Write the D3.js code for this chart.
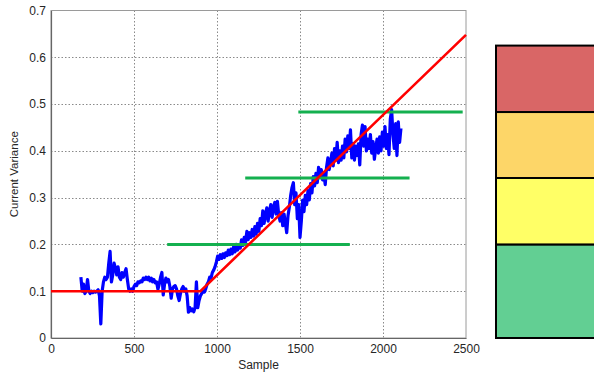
<!DOCTYPE html>
<html>
<head>
<meta charset="utf-8">
<script src="https://cdn.jsdelivr.net/npm/d3@7"></script>
<style>
  html, body { margin: 0; padding: 0; background: #fff; }
  svg { display: block; font-family: Arial, "Liberation Sans", sans-serif; }
</style>
</head>
<body>
<svg id="chart" width="594" height="378"></svg>
<script>
// Measured variance, one reading every sampleStep samples from sampleStart
const sampleStart = 180;
const sampleStep = 8;
const varianceValues = [
  0.13, 0.10, 0.115, 0.095, 0.10, 0.125, 0.10, 0.095, 0.10, 0.097,
  0.10, 0.098, 0.10, 0.103, 0.09, 0.03, 0.10, 0.12, 0.13, 0.125,
  0.13, 0.16, 0.185, 0.12, 0.135, 0.16, 0.15, 0.135, 0.152, 0.13,
  0.125, 0.14, 0.13, 0.14, 0.148, 0.125, 0.105, 0.10, 0.105, 0.10,
  0.11, 0.115, 0.112, 0.12, 0.118, 0.122, 0.12, 0.128, 0.125, 0.13,
  0.125, 0.13, 0.122, 0.128, 0.12, 0.125, 0.118, 0.12, 0.104, 0.115,
  0.13, 0.14, 0.092, 0.115, 0.128, 0.12, 0.125, 0.11, 0.085, 0.105,
  0.11, 0.112, 0.105, 0.09, 0.08, 0.095, 0.105, 0.11, 0.10, 0.105,
  0.09, 0.055, 0.065, 0.058, 0.062, 0.056, 0.065, 0.12, 0.065, 0.08,
  0.09, 0.095, 0.10, 0.098, 0.105, 0.115, 0.12, 0.13, 0.128, 0.14,
  0.145, 0.152, 0.162, 0.175, 0.168, 0.178, 0.17, 0.18, 0.172, 0.182,
  0.176, 0.188, 0.178, 0.19, 0.18, 0.195, 0.184, 0.20, 0.188, 0.198,
  0.192, 0.21, 0.198, 0.215, 0.205, 0.228, 0.21, 0.225, 0.215, 0.232,
  0.218, 0.238, 0.222, 0.245, 0.228, 0.255, 0.24, 0.272, 0.245, 0.265,
  0.278, 0.25, 0.272, 0.285, 0.258, 0.28, 0.29, 0.265, 0.292, 0.262,
  0.25, 0.268, 0.24, 0.265, 0.245, 0.225, 0.262, 0.28, 0.305, 0.322,
  0.332, 0.285, 0.31, 0.255, 0.285, 0.215, 0.25, 0.295, 0.27, 0.305,
  0.285, 0.315, 0.295, 0.33, 0.31, 0.345, 0.325, 0.352, 0.332, 0.365,
  0.345, 0.36, 0.338, 0.35, 0.328, 0.365, 0.385, 0.36, 0.375, 0.395,
  0.368, 0.405, 0.38, 0.418, 0.375, 0.40, 0.38, 0.41, 0.385, 0.425,
  0.398, 0.432, 0.405, 0.445, 0.385, 0.415, 0.38, 0.41, 0.39, 0.415,
  0.37, 0.435, 0.455, 0.41, 0.452, 0.40, 0.425, 0.405, 0.435, 0.395,
  0.42, 0.382, 0.405, 0.425, 0.395, 0.43, 0.40, 0.44, 0.41, 0.452,
  0.405, 0.435, 0.392, 0.468, 0.488, 0.435, 0.405, 0.458, 0.39, 0.462,
  0.418, 0.448
];

// Piecewise trend: flat baseline, then a linear rise
const trendSamples = [0, 900, 2500];
const trendValues = [0.1, 0.1, 0.648];

// Alarm thresholds drawn as horizontal segments
const thresholdLevels = [0.2, 0.342, 0.483];
const thresholdFrom = [700, 1170, 1490];
const thresholdTo = [1800, 2160, 2480];

// Severity zones on the side bar (same value scale as the plot)
const zoneLower = [0, 0.2, 0.342, 0.483];
const zoneUpper = [0.2, 0.342, 0.483, 0.625];
const zoneColors = ["#62CF93", "#FFFF66", "#FDD668", "#D96666"];

const xTicks = [0, 500, 1000, 1500, 2000, 2500];
const yTicks = [0, 0.1, 0.2, 0.3, 0.4, 0.5, 0.6, 0.7];

const svg = d3.select("#chart");
const plot = { left: 51, right: 466, top: 10.5, bottom: 338 };

const x = d3.scaleLinear().domain([0, 2500]).range([plot.left, plot.right]);
const y = d3.scaleLinear().domain([0, 0.7]).range([plot.bottom, plot.top]);

// Grid
const grid = svg.append("g").attr("stroke", "#8a8a8a").attr("stroke-width", 1)
  .attr("stroke-dasharray", "1.5,2");
grid.selectAll("line.v").data(xTicks.slice(1, -1)).join("line")
  .attr("x1", d => Math.round(x(d)) + 0.5).attr("x2", d => Math.round(x(d)) + 0.5)
  .attr("y1", plot.top).attr("y2", plot.bottom);
grid.selectAll("line.h").data(yTicks.slice(1, -1)).join("line")
  .attr("x1", plot.left).attr("x2", plot.right)
  .attr("y1", d => Math.round(y(d)) + 0.5).attr("y2", d => Math.round(y(d)) + 0.5);

// Frame
svg.append("rect").attr("x", plot.left).attr("y", plot.top)
  .attr("width", plot.right - plot.left).attr("height", plot.bottom - plot.top)
  .attr("fill", "none").attr("stroke", "#9a9a9a").attr("stroke-width", 1);

// Axes
const xAxis = svg.append("g").attr("transform", `translate(0,${plot.bottom})`)
  .call(d3.axisBottom(x).tickValues(xTicks).tickSize(0).tickPadding(6).tickFormat(d3.format("d")));
const yAxis = svg.append("g").attr("transform", `translate(${plot.left},0)`)
  .call(d3.axisLeft(y).tickValues(yTicks).tickSize(0).tickPadding(5).tickFormat(d => d === 0 ? "0" : d3.format(".1f")(d)));
[xAxis, yAxis].forEach(a => {
  a.select(".domain").attr("stroke", "#666").attr("stroke-width", 1.2);
  a.selectAll("text").attr("fill", "#262626").attr("font-size", 12)
    .attr("font-family", "Arial, 'Liberation Sans', sans-serif");
});

svg.append("text").attr("x", (plot.left + plot.right) / 2).attr("y", 369)
  .attr("text-anchor", "middle").attr("font-size", 12).attr("fill", "#262626").text("Sample");
svg.append("text").attr("transform", `translate(18,${(plot.top + plot.bottom) / 2}) rotate(-90)`)
  .attr("text-anchor", "middle").attr("font-size", 11.5).attr("fill", "#262626").text("Current Variance");

// Measured series
const measured = varianceValues.map((v, i) => [sampleStart + i * sampleStep, v]);
const line = d3.line().x(d => x(d[0])).y(d => y(d[1]));
svg.append("path").datum(measured).attr("d", line)
  .attr("fill", "none").attr("stroke", "#0000FF").attr("stroke-width", 3.2)
  .attr("stroke-linejoin", "round");

// Thresholds
svg.append("g").selectAll("line").data(thresholdLevels).join("line")
  .attr("x1", (d, i) => x(thresholdFrom[i])).attr("x2", (d, i) => x(thresholdTo[i]))
  .attr("y1", d => y(d)).attr("y2", d => y(d))
  .attr("stroke", "#14B04F").attr("stroke-width", 3);

// Trend
svg.append("path").datum(trendSamples.map((s, i) => [s, trendValues[i]])).attr("d", line)
  .attr("fill", "none").attr("stroke", "#FF0000").attr("stroke-width", 2.6);

// Side zone bar
svg.append("g").selectAll("rect").data(zoneColors).join("rect")
  .attr("x", 496).attr("width", 110)
  .attr("y", (d, i) => y(zoneUpper[i])).attr("height", (d, i) => y(zoneLower[i]) - y(zoneUpper[i]))
  .attr("fill", d => d).attr("stroke", "#000").attr("stroke-width", 2);
</script>
</body>
</html>
